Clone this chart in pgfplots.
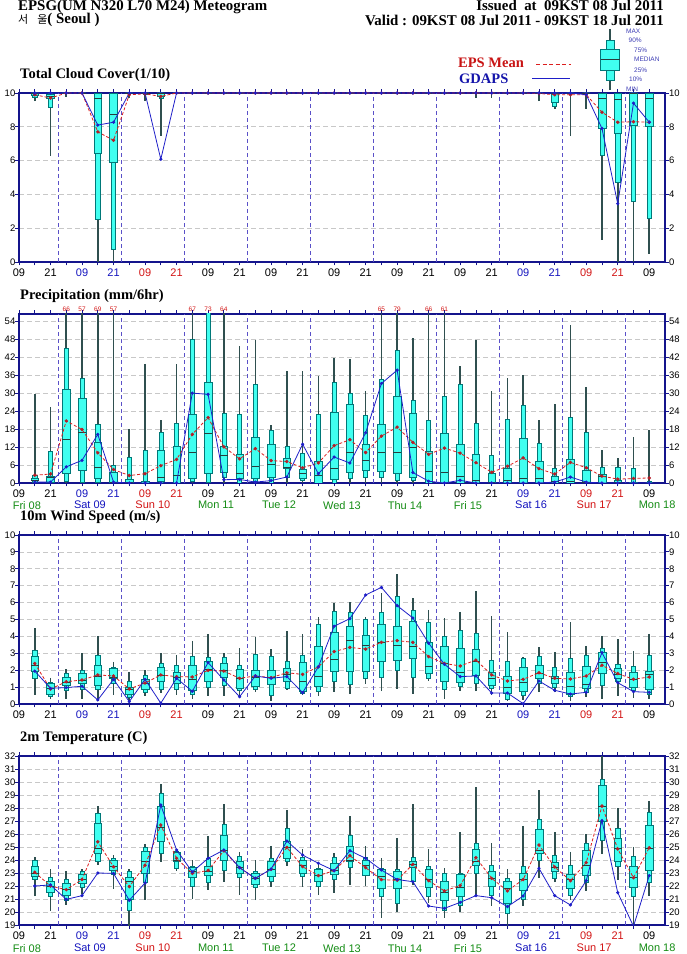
\documentclass[border=0pt]{standalone}
\usepackage{pgfplots}
\pgfplotsset{compat=1.18}
\usepackage{pgfplotstable}
\usepgfplotslibrary{statistics}
\usepackage{fontspec}
\setmainfont{Liberation Serif}
\setsansfont{Liberation Sans}
\newfontfamily\cjk{Noto Sans CJK KR}

\definecolor{navyc}{RGB}{20,20,140}
\definecolor{gridc}{RGB}{200,200,200}
\definecolor{vgridc}{RGB}{90,80,200}
\definecolor{boxc}{RGB}{64,255,240}
\definecolor{boxe}{RGB}{0,120,120}
\definecolor{whisk}{RGB}{47,79,79}
\definecolor{medc}{RGB}{40,60,60}
\definecolor{meanc}{RGB}{220,30,30}
\definecolor{meanm}{RGB}{180,30,40}
\definecolor{gdc}{RGB}{30,30,200}
\definecolor{hblue}{RGB}{20,20,190}
\definecolor{hred}{RGB}{210,20,20}
\definecolor{dgreen}{RGB}{20,140,20}
\definecolor{legblue}{RGB}{60,60,180}
\definecolor{ttlred}{RGB}{200,20,20}
\definecolor{ttlblue}{RGB}{20,20,170}

\newcommand\xlabfont{\fontsize{11}{11}\selectfont\sffamily}
\newcommand\ylabfont{\fontsize{9.5}{9.5}\selectfont\sffamily}
\newcommand\ttlfont{\fontsize{14.5}{14.5}\selectfont\rmfamily\bfseries}
\newcommand\hdrfont{\fontsize{14.9}{14.9}\selectfont\rmfamily\bfseries}
\newcommand\tinyfont{\fontsize{6.5}{6.5}\selectfont\sffamily}
\newcommand\lb[1]{\textcolor{hblue}{#1}}
\newcommand\lr[1]{\textcolor{hred}{#1}}

% cloud cover
\pgfplotstableread{
t mn p10 p25 med p75 p90 mx mean gd
6 9.5 9.75 9.85 10 10 10 10 9.9 10
12 6.3 9.15 9.7 9.8 9.9 10 10 9.7 10
18 9.75 10 10 10 10 10 10 10 10
24 10 10 10 10 10 10 10 10 10
30 0 2.5 6.46 9.7 10 10 10 7.7 8.1
36 0 0.73 5.9 8.76 10 10 10 7.2 8.27
42 9.7 10 10 10 10 10 10 9.9 10
48 9.5 9.9 10 10 10 10 10 9.95 10
54 7.45 9.7 9.8 10 10 10 10 9.8 6.08
60 10 10 10 10 10 10 10 10 10
66 10 10 10 10 10 10 10 10 10
72 10 10 10 10 10 10 10 10 10
78 10 10 10 10 10 10 10 10 10
84 10 10 10 10 10 10 10 10 10
90 10 10 10 10 10 10 10 10 10
96 10 10 10 10 10 10 10 10 10
102 10 10 10 10 10 10 10 10 10
108 10 10 10 10 10 10 10 10 10
114 10 10 10 10 10 10 10 10 10
120 10 10 10 10 10 10 10 10 10
126 10 10 10 10 10 10 10 10 10
132 10 10 10 10 10 10 10 10 10
138 10 10 10 10 10 10 10 10 10
144 10 10 10 10 10 10 10 10 10
150 10 10 10 10 10 10 10 10 10
156 10 10 10 10 10 10 10 10 10
162 10 10 10 10 10 10 10 10 10
168 10 10 10 10 10 10 10 10 10
174 9.7 10 10 10 10 10 10 10 10
180 9.7 10 10 10 10 10 10 10 10
186 10 10 10 10 10 10 10 10 10
192 10 10 10 10 10 10 10 10 10
198 9.5 10 10 10 10 10 10 9.97 10
204 9.05 9.2 9.45 10 10 10 10 9.9 10
210 7.44 10 10 10 10 10 10 9.9 10
216 9.05 10 10 10 10 10 10 9.9 9.9
222 1.3 6.34 7.9 9.7 10 10 10 8.86 7.9
228 0 4.7 7.6 9.6 10 10 10 8.27 3.45
234 0 3.6 8.1 10 10 10 10 8.3 9.4
240 0.5 2.56 8.03 9.7 10 10 10 8.27 8.27
}\cloud

% precipitation
\pgfplotstableread{
t mn p10 p25 med p75 p90 mx mean gd
6 0 0.3 0.8 1.0 1.5 2.5 29.7 2.6 0.3
12 0 0 0.1 1.8 2.2 10.6 25.3 3.0 0.3
18 0 0.5 3.1 14.5 31.3 45 66 20.8 5.4
24 0 0.3 4.4 16.9 28.3 35.2 57 17.9 7.6
30 0 0.3 1.5 5.1 13.8 19.7 69 10.1 16.3
36 0 0 0 0.3 3.7 6.1 57 4.5 0.3
42 0 0 0 0.2 1.1 8.5 18.2 2.5 0
48 0 0 0 0 0.5 11 40 3.1 0
54 0 0 0.5 1.8 11 17.1 21 5.8 0
60 0 0 0 2.5 12.4 19.9 39.8 7.9 0
66 0 0.5 1.5 10.2 22.9 48.3 67 16.3 30.1
72 0 0.3 3.1 16.5 33.9 58 73 21.9 29.7
78 0 2 3.7 9.2 12.3 23.3 64 12.1 1.1
84 0 0 1.5 3.1 9.5 23 45.8 8.1 1.2
90 0 0.5 1.7 5.5 15.2 33.1 47.9 11.5 0.3
96 0 0 2.0 6.3 12.9 17.7 19.3 7.5 0.8
102 0 2 4.8 5.4 8.3 12.3 37.6 7.2 2.0
108 0 1 1.6 3.1 4.5 10.1 37.5 5.1 13.0
114 0 0 0 2.5 7.4 23 35.8 6.7 3.1
120 0 0 1.3 4.8 23.6 33.7 41.7 12.5 8.7
126 0 1.5 3.6 10.2 26.3 30.2 41.4 14.5 6.7
132 0 2 4.2 7.5 12.9 22.6 30.9 10.2 16.8
138 0 2 4 10.2 19.6 34.9 65 15.7 33.3
144 0 1 3.1 10.2 29.2 44.5 79 18.7 37.8
150 0 1 1.8 12.1 23.3 27.7 48.7 13.6 3.5
156 0 0 0 3.8 10.6 21 66 9.6 0.6
162 0 0 0 3.5 16.8 29.2 61 11.7 0
168 0 0 0 2.2 12.9 33 39.1 10.0 0.9
174 0 0 0 1.0 9.7 19.9 47.9 6.8 0
180 0 0 0 0.3 3.4 9.3 30.7 3.6 0
186 0 0 0 1.0 5.1 21.2 35 5.6 0
192 0 0 0 1.7 14.9 25.9 36.2 8.4 0
198 0 0 0 1.7 7.4 13.2 21 4.8 0
204 0 0 0 0.5 2.2 4.8 26.6 3.0 0.3
210 0 0 0 0.5 7.8 22.1 52.9 6.9 2.0
216 0 0 0 0.3 4.4 17 32.2 5.1 0.3
222 0 0 0 2.2 2.9 5.4 11.2 2.3 0
228 0 0 0 0.3 0.8 5.4 8.4 1.3 0
234 0 0 0 0 0.3 5.1 15.4 1.5 0
240 0 0 0 0 0 0.5 17.7 1.7 0
}\precip

% wind speed
\pgfplotstableread{
t mn p10 p25 med p75 p90 mx mean gd
6 0.55 1.5 1.91 2.3 2.8 3.2 4.48 2.4 1.95
12 0.3 0.45 0.6 0.9 1.2 1.3 1.56 0.89 0.93
18 0.3 0.8 1.1 1.3 1.6 1.8 2.05 1.32 0.97
24 0.3 0.9 1.2 1.4 1.8 2.0 3.0 1.42 1.05
30 0.2 0.9 1.1 1.62 2.3 2.9 4.02 1.72 0.24
36 0.55 1.2 1.5 1.6 2.1 2.2 2.5 1.66 1.46
42 0.1 0.4 0.57 0.85 1.02 1.35 1.9 0.89 0.14
48 0.5 0.7 0.85 1.2 1.46 1.7 2.0 1.24 1.46
54 0.65 0.9 1.32 1.7 2.2 2.4 3.0 1.72 0.05
60 0.55 0.85 1.2 1.55 1.9 2.3 2.9 1.62 1.52
66 0.3 0.55 0.81 1.46 2.3 2.85 3.75 1.6 0.75
72 0.5 1.0 1.36 2.05 2.5 2.75 4.12 1.99 2.45
78 0.5 1.1 1.56 2.0 2.4 2.75 3.0 1.95 1.42
84 0.5 0.8 0.93 1.5 2.05 2.3 3.3 1.52 0.43
90 0.7 0.85 1.06 1.6 2.0 2.95 3.94 1.66 1.66
96 0.2 0.5 1.16 1.55 2.0 2.85 3.25 1.56 1.52
102 0.85 0.95 1.36 1.75 2.1 2.55 4.3 1.85 1.62
108 0.55 0.65 0.73 1.36 2.45 2.9 4.14 1.75 0.67
114 0.45 0.75 1.06 1.66 3.39 4.71 5.15 2.2 2.2
120 0.7 1.35 1.95 2.66 4.24 5.5 6.0 3.1 4.6
126 0.6 1.15 1.95 3.75 4.6 5.45 6.05 3.35 5.05
132 1.2 1.5 1.95 3.49 4.04 5.0 5.15 3.25 6.45
138 0.75 1.6 2.5 3.63 4.71 5.4 6.55 3.65 6.9
144 0.9 2.0 2.6 3.49 4.6 6.39 7.7 3.75 5.82
150 0.6 1.6 2.7 3.43 4.87 5.56 6.29 3.65 5.09
156 1.36 1.5 1.83 2.25 3.65 4.81 5.58 2.8 3.6
162 0.3 0.9 1.36 2.39 3.39 4.0 5.1 2.4 2.35
168 0.75 1.05 1.26 1.85 3.3 4.38 5.46 2.25 1.62
174 0.75 1.2 1.7 2.54 3.23 4.18 6.69 2.6 1.66
180 0.55 0.95 1.1 1.5 1.9 2.6 5.2 1.72 0.65
186 0.2 0.3 0.65 1.0 1.66 2.55 4.24 1.36 0.65
192 0.25 0.5 0.75 1.26 2.19 2.7 2.78 1.46 0.02
198 0.7 1.2 1.5 1.8 2.3 2.85 3.35 1.85 1.36
204 0.7 1.0 1.2 1.5 1.66 2.2 3.05 1.52 0.81
210 0.2 0.45 0.6 1.05 1.9 2.7 4.85 1.48 0.59
216 0.4 0.7 0.95 1.16 2.25 2.9 3.45 1.66 0.69
222 0.3 1.1 1.8 2.45 3.06 3.3 4.04 2.29 3.04
228 0.5 1.35 1.5 1.75 2.1 2.37 3.85 1.8 1.26
234 0.35 0.8 0.97 1.46 1.87 2.25 3.16 1.46 0.73
240 0.3 0.6 0.85 1.75 1.95 2.86 4.16 1.6 0.69
}\wind

% 2m temperature
\pgfplotstableread{
t mn p10 p25 med p75 p90 mx mean gd
6 21.2 22.5 22.77 23.0 23.5 24.0 24.26 23.05 22.0
12 20.1 21.18 21.5 22.0 22.4 22.64 23.28 22.0 22.08
18 20.54 20.9 21.3 21.75 22.2 22.55 23.15 21.72 20.97
24 21.4 21.9 22.2 22.5 22.92 23.1 23.3 22.5 21.26
30 23.6 23.9 24.5 24.9 26.8 27.6 28.13 25.4 23.0
36 21.8 22.9 23.18 23.5 24.0 24.15 24.38 23.48 22.97
42 18.8 20.1 21.0 22.33 22.7 23.1 23.28 21.95 20.9
48 20.95 22.3 23.0 23.87 24.69 24.95 25.26 23.6 22.23
54 23.85 24.5 25.41 26.49 28.15 29.13 29.85 26.69 28.23
60 23.15 23.4 23.87 24.0 24.56 24.65 24.85 24.13 24.77
66 21.0 22.0 22.64 23.1 23.41 23.55 24.0 22.97 23.08
72 21.7 22.3 22.85 23.1 23.49 24.1 25.85 23.2 24.13
78 22.3 23.2 23.95 24.75 25.87 26.74 28.28 24.7 24.77
84 21.3 22.7 22.95 23.4 23.92 24.3 24.64 23.41 23.41
90 20.9 21.9 22.13 22.6 23.0 23.15 24.0 22.59 22.59
96 21.95 22.4 22.77 23.3 23.87 24.1 25.1 23.28 23.3
102 23.54 23.9 24.13 25.0 25.41 26.46 27.85 24.97 25.46
108 21.95 22.75 23.0 23.6 24.0 24.2 24.85 23.49 24.38
114 21.3 21.95 22.38 22.8 23.28 23.4 23.8 22.8 23.75
120 21.49 22.5 22.9 23.2 23.74 24.2 24.51 23.18 23.18
126 22.08 23.45 23.87 24.0 25.03 25.92 27.38 24.33 24.72
132 22.0 22.8 22.85 23.6 24.0 24.2 25.1 23.41 24.13
138 19.56 21.2 21.82 22.77 23.28 23.4 24.13 22.49 23.23
144 19.97 20.7 21.82 22.5 23.1 23.3 25.72 22.44 22.5
150 22.08 22.4 23.41 23.7 23.92 24.2 28.28 23.67 22.33
156 20.72 21.2 21.9 22.5 23.3 23.5 24.85 22.41 20.46
162 19.56 20.1 20.9 21.55 22.36 23.0 23.36 21.62 20.28
168 19.97 20.55 21.23 21.9 22.9 22.95 26.13 22.03 20.74
174 21.26 23.0 23.6 23.9 24.85 25.28 29.6 24.18 21.26
180 20.5 21.3 22.0 22.6 23.15 23.6 25.28 22.59 21.1
186 18.9 19.9 20.67 21.85 22.38 22.6 23.28 21.62 20.41
192 20.5 21.0 21.64 22.5 22.97 23.5 26.64 22.5 21.23
198 22.6 24.0 24.51 24.77 26.36 27.13 29.36 25.15 23.36
204 22.28 22.6 23.1 23.45 23.8 24.35 26.13 23.46 21.26
210 20.92 21.3 21.82 22.5 22.92 23.6 24.64 22.41 20.54
216 21.62 22.3 22.85 23.62 24.72 25.3 25.97 23.8 22.41
222 24.46 25.5 26.95 28.1 29.77 30.23 32.5 28.15 27.03
228 22.5 23.5 23.87 24.9 25.67 26.44 28.03 24.85 21.49
234 18.8 21.2 21.9 22.65 23.54 24.3 25.03 22.64 18.9
240 21.23 22.3 23.23 24.9 26.64 27.67 28.54 24.95 22.8
}\temp

\newcommand\drawbox[2]{%
  \pgfplotstablegetelem{#2}{t}\of#1\let\bt\pgfplotsretval
  \pgfplotstablegetelem{#2}{mn}\of#1\let\bmn\pgfplotsretval
  \pgfplotstablegetelem{#2}{p10}\of#1\let\bpa\pgfplotsretval
  \pgfplotstablegetelem{#2}{p25}\of#1\let\bpb\pgfplotsretval
  \pgfplotstablegetelem{#2}{med}\of#1\let\bmed\pgfplotsretval
  \pgfplotstablegetelem{#2}{p75}\of#1\let\bpc\pgfplotsretval
  \pgfplotstablegetelem{#2}{p90}\of#1\let\bpd\pgfplotsretval
  \pgfplotstablegetelem{#2}{mx}\of#1\let\bmx\pgfplotsretval
  \edef\bcmd{%
    \noexpand\addplot[outerbox, boxplot prepared={draw direction=y, draw position=\bt, lower whisker=\bmn, lower quartile=\bpa, median=\bmed, upper quartile=\bpd, upper whisker=\bmx}] coordinates {};%
    \noexpand\addplot[innerbox, boxplot prepared={draw direction=y, draw position=\bt, lower whisker=\bpb, lower quartile=\bpb, median=\bmed, upper quartile=\bpc, upper whisker=\bpc}] coordinates {};%
  }\bcmd
}

\tikzset{rlab/.style={anchor=west, font=\ylabfont, inner sep=0pt, xshift=4pt}}

\pgfplotsset{
  outerbox/.style={draw=boxe, fill=boxc, line width=0.5pt,
    boxplot/draw direction=y,
    boxplot/box extend=1.55, boxplot/whisker extend=0,
    boxplot/every whisker/.style={draw=whisk, line width=1.6pt},
    boxplot/every median/.style={draw=medc, line width=0.7pt}},
  innerbox/.style={draw=boxe, fill=boxc, line width=0.5pt,
    boxplot/draw direction=y,
    boxplot/box extend=2.9, boxplot/whisker extend=0,
    boxplot/every whisker/.style={draw=whisk, line width=1.6pt},
    boxplot/every median/.style={draw=medc, line width=0.7pt}},
  meanline/.style={draw=meanc, line width=0.8pt, dash pattern=on 3pt off 2pt,
    mark=*, mark size=1.3pt, mark options={solid, fill=meanm, draw=meanm}},
  gdline/.style={draw=gdc, line width=0.8pt, mark=*, mark size=1.2pt,
    mark options={fill=gdc, draw=gdc}},
  mg/.style={
    scale only axis, width=646pt, height=169pt,
    xmin=0, xmax=246,
    xtick={0,6,...,240},
    xticklabels={09,,21,,\lb{09},,\lb{21},,\lr{09},,\lr{21},,09,,21,,09,,21,,09,,21,,09,,21,,09,,21,,\lb{09},,\lb{21},,\lr{09},,\lr{21},,09},
    xtick pos=both, ytick pos=both,
    tick align=outside,
    major tick length=3.5pt,
    tick style={draw=navyc, line width=0.8pt},
    axis line style={draw=navyc, line width=1.8pt},
    xticklabel style={font=\xlabfont, inner sep=0pt, anchor=north, yshift=-3.5pt},
    yticklabel style={font=\ylabfont, inner sep=0pt, anchor=east},
    /pgf/number format/assume math mode=true,
    ymajorgrids,
    major grid style={draw=gridc, dash pattern=on 5pt off 3pt, line width=0.6pt},
    extra x ticks={15,39,...,231},
    extra x tick labels={},
    extra x tick style={grid=major, major tick length=0pt,
      major grid style={draw=vgridc, dash pattern=on 4pt off 3pt, line width=0.7pt}},
    title style={at={(0,1)}, anchor=base west, yshift=8.5pt, xshift=1pt, inner sep=0pt, font=\ttlfont},
  },
}

\begin{document}
\begin{tikzpicture}
\path[use as bounding box] (0pt,0pt) rectangle (687pt,954pt);

% ---------- Total cloud cover ----------
\begin{axis}[mg, at={(19pt,692pt)}, anchor=south west,
  ymin=0, ymax=10, ytick={0,2,...,10},
  title={Total Cloud Cover(1/10)},
  after end axis/.code={
    \foreach \v in {0,2,4,6,8,10} {\node[rlab] at (axis cs:246,\v) {\v};}
  }]
\pgfplotsforeachungrouped \i in {0,...,39}{\drawbox{\cloud}{\i}}
\addplot[meanline] table[x=t,y=mean]{\cloud};
\addplot[gdline] table[x=t,y=gd]{\cloud};
\end{axis}

% ---------- Precipitation ----------
\begin{axis}[mg, at={(19pt,471pt)}, anchor=south west,
  ymin=0, ymax=56.6, ytick={0,6,...,54},
  title={Precipitation (mm/6hr)},
  after end axis/.code={
    \foreach \v in {0,6,12,18,24,30,36,42,48,54} {\node[rlab] at (axis cs:246,\v) {\v};}
    \foreach \x/\v in {18/66,24/57,30/69,36/57,66/67,72/73,78/64,138/65,144/79,156/66,162/61}
      {\node[font=\tinyfont, text=hred, anchor=south, inner sep=0pt, yshift=2pt] at (axis cs:\x,56.6) {\v};}
    \foreach \x/\d/\c in {3/Fri 08/dgreen,27/Sat 09/hblue,51/Sun 10/hred,75/Mon 11/dgreen,99/Tue 12/dgreen,123/Wed 13/dgreen,147/Thu 14/dgreen,171/Fri 15/dgreen,195/Sat 16/hblue,219/Sun 17/hred,243/Mon 18/dgreen}
      {\node[font=\xlabfont, text=\c, anchor=north, inner sep=0pt] at ([yshift=-18pt]axis cs:\x,0) {\d};}
  }]
\pgfplotsforeachungrouped \i in {0,...,39}{\drawbox{\precip}{\i}}
\addplot[meanline] table[x=t,y=mean]{\precip};
\addplot[gdline] table[x=t,y=gd]{\precip};
\end{axis}

% ---------- Wind speed ----------
\begin{axis}[mg, at={(19pt,250pt)}, anchor=south west,
  ymin=0, ymax=10, ytick={0,1,...,10},
  title={10m Wind Speed (m/s)},
  after end axis/.code={
    \foreach \v in {0,1,2,3,4,5,6,7,8,9,10} {\node[rlab] at (axis cs:246,\v) {\v};}
  }]
\pgfplotsforeachungrouped \i in {0,...,39}{\drawbox{\wind}{\i}}
\addplot[meanline] table[x=t,y=mean]{\wind};
\addplot[gdline] table[x=t,y=gd]{\wind};
\end{axis}

% ---------- Temperature ----------
\begin{axis}[mg, at={(19pt,29pt)}, anchor=south west,
  ymin=19, ymax=32, ytick={19,20,...,32},
  title={2m Temperature (C)},
  after end axis/.code={
    \foreach \v in {19,20,...,32} {\node[rlab] at (axis cs:246,\v) {\v};}
    \foreach \x/\d/\c in {3/Fri 08/dgreen,27/Sat 09/hblue,51/Sun 10/hred,75/Mon 11/dgreen,99/Tue 12/dgreen,123/Wed 13/dgreen,147/Thu 14/dgreen,171/Fri 15/dgreen,195/Sat 16/hblue,219/Sun 17/hred,243/Mon 18/dgreen}
      {\node[font=\xlabfont, text=\c, anchor=north, inner sep=0pt] at ([yshift=-19pt]axis cs:\x,19) {\d};}
  }]
\pgfplotsforeachungrouped \i in {0,...,39}{\drawbox{\temp}{\i}}
\addplot[meanline] table[x=t,y=mean]{\temp};
\addplot[gdline] table[x=t,y=gd]{\temp};
\end{axis}

% ---------- header ----------
\node[anchor=base west, inner sep=0pt, font=\hdrfont] at (18pt,943pt) {EPSG(UM N320 L70 M24) Meteogram};
\node[anchor=base west, inner sep=0pt] at (18pt,930pt) {{\cjk\fontsize{11}{11}\selectfont 서\hspace{9pt}울}{\hdrfont( Seoul )}};
\node[anchor=base east, inner sep=0pt, font=\hdrfont] at (664pt,943pt) {Issued\ \ at\ \ 09KST 08 Jul 2011};
\node[anchor=base east, inner sep=0pt, font=\hdrfont] at (664pt,928pt) {Valid : 09KST 08 Jul 2011 - 09KST 18 Jul 2011};

% ---------- legend ----------
\node[anchor=base west, inner sep=0pt, font=\ttlfont, text=ttlred] at (458pt,886pt) {EPS Mean};
\draw[meanc, line width=0.8pt, dash pattern=on 4pt off 2.5pt] (536pt,889.5pt) -- (571pt,889.5pt);
\node[anchor=base west, inner sep=0pt, font=\ttlfont, text=ttlblue] at (459pt,870pt) {GDAPS};
\draw[gdc, line width=0.9pt] (532pt,875.5pt) -- (570pt,875.5pt);
% box-whisker key
\draw[whisk, line width=1.6pt] (610pt,864pt) -- (610pt,925pt);
\filldraw[fill=boxc, draw=boxe, line width=0.5pt] (606pt,874pt) rectangle (614pt,914pt);
\filldraw[fill=boxc, draw=boxe, line width=0.5pt] (600.5pt,884pt) rectangle (619.5pt,905pt);
\draw[medc, line width=0.7pt] (600.5pt,894.5pt) -- (619.5pt,894.5pt);
\begin{scope}[every node/.style={anchor=west, inner sep=0pt, font=\tinyfont, text=legblue}]
\node at (626pt,923pt) {MAX};
\node at (628.5pt,914pt) {90\%};
\node at (634pt,904pt) {75\%};
\node at (634pt,894.5pt) {MEDIAN};
\node at (634pt,884pt) {25\%};
\node at (629pt,875pt) {10\%};
\node at (626pt,865pt) {MIN};
\end{scope}
\end{tikzpicture}
\end{document}
